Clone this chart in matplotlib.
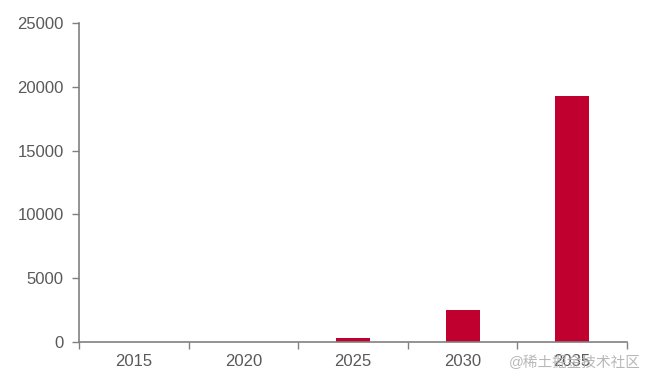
import matplotlib.pyplot as plt

years  = ["2015", "2020", "2025", "2030", "2035"]
values = [5, 30, 300, 2500, 19300]
yticks = [0, 5000, 10000, 15000, 20000, 25000]

plt.rcParams['font.family'] = ['Liberation Sans', 'Noto Sans CJK SC', 'DejaVu Sans']

fig = plt.figure(figsize=(6.5, 3.85), dpi=100)
ax = fig.add_axes([0.1215, 0.1117, 0.843, 0.8286])

xs = range(len(years))
ax.bar(xs, values, width=0.31, color="#C0002F", zorder=2)

ax.set_xlim(-0.5, len(years) - 0.5)
ax.set_ylim(0, 25000)
ax.set_yticks(yticks)
ax.set_yticklabels([str(v) for v in yticks])

# ticks between categories, labels centred
ax.set_xticks([i - 0.5 for i in range(len(years) + 1)])
ax.set_xticklabels([])
ax.set_xticks(list(xs), minor=True)
ax.set_xticklabels(years, minor=True)
ax.tick_params(axis="x", which="minor", length=0, pad=9)
ax.tick_params(axis="x", which="major", length=5, width=1, color="#808080")
ax.tick_params(axis="y", length=5, width=1, color="#808080", pad=6)
ax.tick_params(labelsize=12, labelcolor="#595959", which="both")

for s in ["top", "right"]:
    ax.spines[s].set_visible(False)
for s in ["left", "bottom"]:
    ax.spines[s].set_color("#808080")
    ax.spines[s].set_linewidth(1.2)

fig.text(0.985, 0.058, "@稀土掘金技术社区", ha="right", va="center",
         fontsize=10.5, color="#b0b0b0", alpha=0.9)

fig.savefig("out.png", dpi=100)
